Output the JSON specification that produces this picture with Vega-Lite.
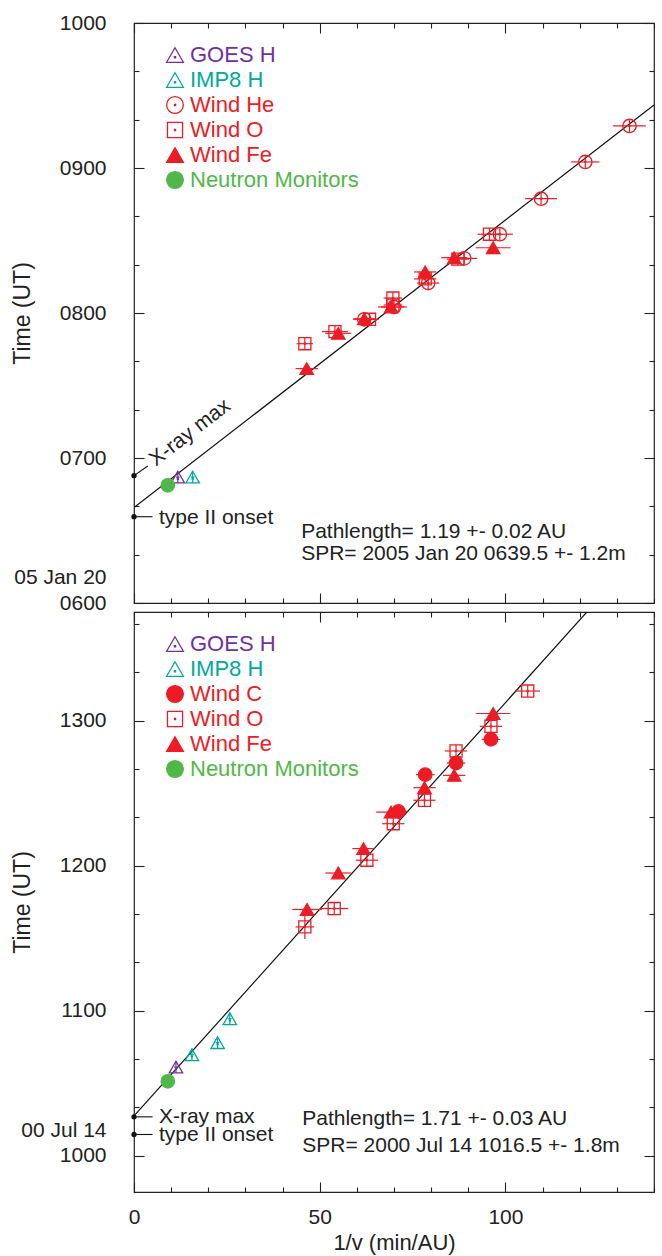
{
  "$schema": "https://vega.github.io/schema/vega-lite/v6.json",
  "padding": {"left": 10, "top": 11, "right": 9, "bottom": 2},
  "bounds": "flush",
  "spacing": 9,
  "config": {
    "view": {"stroke": "#222", "strokeWidth": 1.2},
    "axis": {"labelFont": "Liberation Sans", "labelFontSize": 21, "labelColor": "#222", "tickColor": "#222", "tickWidth": 1.1, "domain": false, "grid": false, "labelFlush": false, "labelOverlap": false, "labelBound": false, "titleFont": "Liberation Sans", "titleFontSize": 23, "titleFontWeight": "normal", "titleColor": "#222"},
    "text": {"font": "Liberation Sans", "fontSize": 21, "color": "#222"},
    "legend": {"orient": "none", "legendX": 30, "legendY": 21, "padding": 0, "rowPadding": 3, "labelOffset": 4, "symbolSize": 280, "symbolStrokeWidth": 1.3, "labelFont": "Liberation Sans", "labelFontSize": 22, "labelLimit": 400}
  },
  "datasets": {
    "top_pts": [
      {"series": "GOES H", "x": 11.8, "t": 412.1, "xerr": 0.5, "terr": 2.5},
      {"series": "IMP8 H", "x": 15.8, "t": 412.1, "xerr": 0.5, "terr": 2.5},
      {"series": "Neutron Monitors", "x": 9.1, "t": 408.7, "xerr": 0, "terr": 0},
      {"series": "Wind O", "x": 46.0, "t": 467.3, "xerr": 2.2, "terr": 2.5},
      {"series": "Wind Fe", "x": 46.5, "t": 457.0, "xerr": 3.0, "terr": 2},
      {"series": "Wind O", "x": 54.1, "t": 472.3, "xerr": 3.5, "terr": 2.5},
      {"series": "Wind Fe", "x": 55.0, "t": 471.6, "xerr": 3.5, "terr": 2},
      {"series": "Wind He", "x": 62.0, "t": 477.4, "xerr": 3.0, "terr": 2.5},
      {"series": "Wind Fe", "x": 62.0, "t": 477.6, "xerr": 3.0, "terr": 2},
      {"series": "Wind O", "x": 63.4, "t": 477.4, "xerr": 2.5, "terr": 2.5},
      {"series": "Wind O", "x": 69.7, "t": 486.2, "xerr": 2.5, "terr": 2.5},
      {"series": "Wind O", "x": 69.7, "t": 483.3, "xerr": 2.5, "terr": 2.5},
      {"series": "Wind He", "x": 70.0, "t": 482.5, "xerr": 3.5, "terr": 2.5},
      {"series": "Wind Fe", "x": 69.2, "t": 482.5, "xerr": 3.5, "terr": 2},
      {"series": "Wind Fe", "x": 78.4, "t": 497.0, "xerr": 3.0, "terr": 2},
      {"series": "Wind O", "x": 78.4, "t": 494.1, "xerr": 3.0, "terr": 2.5},
      {"series": "Wind He", "x": 79.2, "t": 492.4, "xerr": 3.0, "terr": 2.5},
      {"series": "Wind Fe", "x": 86.2, "t": 502.9, "xerr": 3.5, "terr": 2},
      {"series": "Wind O", "x": 87.2, "t": 502.3, "xerr": 3.0, "terr": 2.5},
      {"series": "Wind He", "x": 88.9, "t": 502.6, "xerr": 3.5, "terr": 2.5},
      {"series": "Wind O", "x": 95.7, "t": 512.6, "xerr": 3.2, "terr": 2.5},
      {"series": "Wind He", "x": 98.5, "t": 512.6, "xerr": 3.5, "terr": 2.5},
      {"series": "Wind Fe", "x": 96.7, "t": 507.0, "xerr": 4.7, "terr": 2},
      {"series": "Wind He", "x": 109.6, "t": 527.3, "xerr": 4.3, "terr": 2.5},
      {"series": "Wind He", "x": 121.5, "t": 542.5, "xerr": 3.8, "terr": 2.5},
      {"series": "Wind He", "x": 133.4, "t": 557.4, "xerr": 4.4, "terr": 2.5}
    ],
    "bot_pts": [
      {"series": "GOES H", "x": 11.3, "t": 636.7, "xerr": 0.5, "terr": 2.5},
      {"series": "IMP8 H", "x": 15.6, "t": 641.8, "xerr": 0.5, "terr": 2.5},
      {"series": "IMP8 H", "x": 22.5, "t": 646.8, "xerr": 0.5, "terr": 2.5},
      {"series": "IMP8 H", "x": 25.8, "t": 656.7, "xerr": 0.5, "terr": 2.5},
      {"series": "Neutron Monitors", "x": 9.1, "t": 630.8, "xerr": 0, "terr": 0},
      {"series": "Wind O", "x": 46.0, "t": 694.7, "xerr": 2.5, "terr": 5},
      {"series": "Wind Fe", "x": 46.6, "t": 701.9, "xerr": 4.0, "terr": 2},
      {"series": "Wind O", "x": 53.9, "t": 702.3, "xerr": 3.8, "terr": 2.5},
      {"series": "Wind Fe", "x": 55.0, "t": 717.0, "xerr": 3.5, "terr": 2},
      {"series": "Wind O", "x": 62.7, "t": 722.3, "xerr": 3.0, "terr": 2.5},
      {"series": "Wind Fe", "x": 61.8, "t": 727.1, "xerr": 3.0, "terr": 2},
      {"series": "Wind O", "x": 69.8, "t": 737.4, "xerr": 3.0, "terr": 2.5},
      {"series": "Wind Fe", "x": 69.2, "t": 742.2, "xerr": 4.0, "terr": 2},
      {"series": "Wind C", "x": 71.2, "t": 742.5, "xerr": 2.5, "terr": 2},
      {"series": "Wind O", "x": 78.2, "t": 747.1, "xerr": 3.0, "terr": 2.5},
      {"series": "Wind Fe", "x": 78.2, "t": 752.3, "xerr": 3.0, "terr": 2},
      {"series": "Wind C", "x": 78.4, "t": 757.7, "xerr": 2.5, "terr": 2},
      {"series": "Wind Fe", "x": 86.2, "t": 757.4, "xerr": 3.0, "terr": 2},
      {"series": "Wind C", "x": 86.7, "t": 762.5, "xerr": 2.5, "terr": 2},
      {"series": "Wind O", "x": 86.7, "t": 767.5, "xerr": 3.0, "terr": 2.5},
      {"series": "Wind C", "x": 96.1, "t": 772.3, "xerr": 2.5, "terr": 2},
      {"series": "Wind O", "x": 96.1, "t": 777.7, "xerr": 3.0, "terr": 2.5},
      {"series": "Wind Fe", "x": 96.7, "t": 783.0, "xerr": 4.6, "terr": 2},
      {"series": "Wind O", "x": 106.0, "t": 792.3, "xerr": 3.3, "terr": 2.5}
    ],
    "top_fit": [{"x": 0, "t": 399.5}, {"x": 140, "t": 566.1}],
    "bot_fit": [{"x": 0, "t": 616.5}, {"x": 140, "t": 855.9}],
    "top_ann": [
      {"event": "X-ray max", "x": 0, "t": 412.7, "x2": 3.7, "t2": 416.7},
      {"event": "type II onset", "x": 0, "t": 395.7, "x2": 5.0, "t2": 395.7}
    ],
    "bot_ann": [
      {"event": "X-ray max", "x": 0, "t": 616.1, "x2": 5.0, "t2": 616.1},
      {"event": "type II onset", "x": 0, "t": 608.8, "x2": 5.0, "t2": 608.8}
    ],
    "top_txt": [
      {"label": "type II onset", "x": 6.7, "t": 395.3},
      {"label": "Pathlength= 1.19 +- 0.02 AU", "x": 45.0, "t": 389.5},
      {"label": "SPR= 2005 Jan 20 0639.5 +- 1.2m", "x": 45.0, "t": 380.1}
    ],
    "top_rot": [
      {"label": "X-ray max", "x": 4.9, "t": 418.3}
    ],
    "bot_txt": [
      {"label": "X-ray max", "x": 6.7, "t": 615.9},
      {"label": "type II onset", "x": 6.7, "t": 608.5},
      {"label": "Pathlength= 1.71 +- 0.03 AU", "x": 45.3, "t": 615.2},
      {"label": "SPR= 2000 Jul 14 1016.5 +- 1.8m", "x": 45.3, "t": 604.0}
    ]
  },
  "resolve": {
    "scale": {"y": "independent", "color": "independent", "fill": "independent", "shape": "independent", "stroke": "independent"},
    "legend": {"color": "independent", "fill": "independent", "shape": "independent", "stroke": "independent"}
  },
  "vconcat": [
    {
      "width": 520,
      "height": 580,
      "resolve": {"axis": {"x": "independent", "y": "independent"}},
      "layer": [
        {
          "data": {"name": "top_fit"},
          "mark": {"type": "line", "color": "#111", "strokeWidth": 1.2, "clip": true},
          "encoding": {
            "x": {"field": "x", "type": "quantitative", "scale": {"domain": [0, 140], "nice": false, "zero": false},
              "axis": {"orient": "bottom", "values": [0,10,20,30,40,50,60,70,80,90,100,110,120,130,140], "labels": false, "title": null,
                "tickSize": {"condition": {"test": "datum.value % 50 == 0", "value": -10}, "value": -5}}},
            "y": {"field": "t", "type": "quantitative", "scale": {"domain": [360, 600], "nice": false, "zero": false},
              "axis": {"orient": "left", "values": [360,380,400,420,440,460,480,500,520,540,560,580,600],
                "title": "Time (UT)", "titleX": -100, "titleY": 290, "titleAngle": -90, "titleAlign": "center", "titleBaseline": "bottom",
                "labelExpr": "datum.value == 360 ? ['05 Jan 20', '0600'] : (datum.value % 60 == 0 ? (datum.value < 600 ? '0' : '') + floor(datum.value / 60) + '00' : '')",
                "labelPadding": 38, "labelLineHeight": 26,
                "labelOffset": {"condition": {"test": "datum.value == 360", "value": -26}, "value": 0},
                "tickSize": {"condition": {"test": "datum.value % 60 == 0", "value": -10}, "value": -5}}}
          }
        },
        {
          "data": {"name": "top_pts"},
          "mark": {"type": "errorbar", "thickness": 1.2},
          "encoding": {
            "x": {"field": "x", "type": "quantitative", "axis": null},
            "xError": {"field": "xerr"},
            "y": {"field": "t", "type": "quantitative", "axis": null},
            "stroke": {"field": "series", "type": "nominal",
              "scale": {"domain": ["GOES H", "IMP8 H", "Wind He", "Wind O", "Wind Fe", "Neutron Monitors"], "range": ["#7030a0", "#00a99d", "#ed1c24", "#ed1c24", "#ed1c24", "#50b848"]},
              "legend": {"title": null, "orient": "none",
                "labelColor": {"expr": "datum.label == 'GOES H' ? '#7030a0' : datum.label == 'IMP8 H' ? '#00a99d' : datum.label == 'Neutron Monitors' ? '#50b848' : '#ed1c24'"}}}
          }
        },
        {
          "data": {"name": "top_pts"},
          "mark": {"type": "errorbar", "thickness": 1.2},
          "encoding": {
            "x": {"field": "x", "type": "quantitative", "axis": null},
            "y": {"field": "t", "type": "quantitative", "axis": null},
            "yError": {"field": "terr"},
            "stroke": {"field": "series", "type": "nominal"}
          }
        },
        {
          "data": {"name": "top_pts"},
          "mark": {"type": "point", "size": 180, "strokeWidth": 1.3, "opacity": 1},
          "encoding": {
            "x": {"field": "x", "type": "quantitative",
              "axis": {"orient": "top", "values": [0,10,20,30,40,50,60,70,80,90,100,110,120,130,140], "labels": false, "title": null,
                "tickSize": {"condition": {"test": "datum.value % 50 == 0", "value": -10}, "value": -5}}},
            "y": {"field": "t", "type": "quantitative",
              "axis": {"orient": "right", "values": [360,380,400,420,440,460,480,500,520,540,560,580,600], "labels": false, "title": null,
                "tickSize": {"condition": {"test": "datum.value % 60 == 0", "value": -10}, "value": -5}}},
            "stroke": {"field": "series", "type": "nominal"},
            "fill": {"field": "series", "type": "nominal",
              "scale": {"domain": ["GOES H", "IMP8 H", "Wind He", "Wind O", "Wind Fe", "Neutron Monitors"], "range": ["transparent", "transparent", "transparent", "transparent", "#ed1c24", "#50b848"]},
              "legend": {"title": null, "orient": "none"}},
            "shape": {"field": "series", "type": "nominal",
              "scale": {"domain": ["GOES H", "IMP8 H", "Wind He", "Wind O", "Wind Fe", "Neutron Monitors"], "range": [
                "M0,-0.87L1,0.87L-1,0.87Z M-0.07,0.2L0.07,0.2L0.07,0.34L-0.07,0.34Z",
                "M0,-0.87L1,0.87L-1,0.87Z M-0.07,0.2L0.07,0.2L0.07,0.34L-0.07,0.34Z",
                "M1,0A1,1,0,1,1,-1,0A1,1,0,1,1,1,0Z M-0.07,-0.07L0.07,-0.07L0.07,0.07L-0.07,0.07Z",
                "M-0.9,-0.9L0.9,-0.9L0.9,0.9L-0.9,0.9Z M-0.07,-0.07L0.07,-0.07L0.07,0.07L-0.07,0.07Z",
                "M0,-0.87L1,0.87L-1,0.87Z",
                "circle"]},
              "legend": {"title": null, "orient": "none"}}
          }
        },
        {
          "data": {"name": "top_ann"},
          "mark": {"type": "rule", "color": "#111", "strokeWidth": 1.1},
          "encoding": {
            "x": {"field": "x", "type": "quantitative", "axis": null},
            "y": {"field": "t", "type": "quantitative", "axis": null},
            "x2": {"field": "x2"},
            "y2": {"field": "t2"}
          }
        },
        {
          "data": {"name": "top_ann"},
          "mark": {"type": "point", "filled": true, "size": 28, "color": "#111", "opacity": 1, "clip": false},
          "encoding": {
            "x": {"field": "x", "type": "quantitative", "axis": null},
            "y": {"field": "t", "type": "quantitative", "axis": null}
          }
        },
        {
          "data": {"name": "top_txt"},
          "mark": {"type": "text", "align": "left", "baseline": "middle"},
          "encoding": {
            "x": {"field": "x", "type": "quantitative", "axis": null},
            "y": {"field": "t", "type": "quantitative", "axis": null},
            "text": {"field": "label"}
          }
        },
        {
          "data": {"name": "top_rot"},
          "mark": {"type": "text", "align": "left", "baseline": "middle", "angle": -37.7},
          "encoding": {
            "x": {"field": "x", "type": "quantitative", "axis": null},
            "y": {"field": "t", "type": "quantitative", "axis": null},
            "text": {"field": "label"}
          }
        }
      ]
    },
    {
      "width": 520,
      "height": 580,
      "resolve": {"axis": {"x": "independent", "y": "independent"}},
      "layer": [
        {
          "data": {"name": "bot_fit"},
          "mark": {"type": "line", "color": "#111", "strokeWidth": 1.2, "clip": true},
          "encoding": {
            "x": {"field": "x", "type": "quantitative", "scale": {"domain": [0, 140], "nice": false, "zero": false},
              "axis": {"orient": "bottom", "values": [0,10,20,30,40,50,60,70,80,90,100,110,120,130,140], "title": "1/v (min/AU)",
                "labelExpr": "datum.value % 50 == 0 ? datum.label : ''", "labelPadding": 24, "titlePadding": 0, "titleFontSize": 22,
                "tickSize": {"condition": {"test": "datum.value % 50 == 0", "value": -10}, "value": -5}}},
            "y": {"field": "t", "type": "quantitative", "scale": {"domain": [585, 825], "nice": false, "zero": false},
              "axis": {"orient": "left", "values": [600,620,640,660,680,700,720,740,760,780,800,820],
                "title": "Time (UT)", "titleX": -100, "titleY": 290, "titleAngle": -90, "titleAlign": "center", "titleBaseline": "bottom",
                "labelExpr": "datum.value == 600 ? ['00 Jul 14', '1000'] : (datum.value % 60 == 0 ? floor(datum.value / 60) + '00' : '')",
                "labelPadding": 38, "labelLineHeight": 25,
                "labelOffset": {"condition": {"test": "datum.value == 600", "value": -25}, "value": 0},
                "tickSize": {"condition": {"test": "datum.value % 60 == 0", "value": -10}, "value": -5}}}
          }
        },
        {
          "data": {"name": "bot_pts"},
          "mark": {"type": "errorbar", "thickness": 1.2},
          "encoding": {
            "x": {"field": "x", "type": "quantitative", "axis": null},
            "xError": {"field": "xerr"},
            "y": {"field": "t", "type": "quantitative", "axis": null},
            "stroke": {"field": "series", "type": "nominal",
              "scale": {"domain": ["GOES H", "IMP8 H", "Wind C", "Wind O", "Wind Fe", "Neutron Monitors"], "range": ["#7030a0", "#00a99d", "#ed1c24", "#ed1c24", "#ed1c24", "#50b848"]},
              "legend": {"title": null, "orient": "none",
                "labelColor": {"expr": "datum.label == 'GOES H' ? '#7030a0' : datum.label == 'IMP8 H' ? '#00a99d' : datum.label == 'Neutron Monitors' ? '#50b848' : '#ed1c24'"}}}
          }
        },
        {
          "data": {"name": "bot_pts"},
          "mark": {"type": "errorbar", "thickness": 1.2},
          "encoding": {
            "x": {"field": "x", "type": "quantitative", "axis": null},
            "y": {"field": "t", "type": "quantitative", "axis": null},
            "yError": {"field": "terr"},
            "stroke": {"field": "series", "type": "nominal"}
          }
        },
        {
          "data": {"name": "bot_pts"},
          "mark": {"type": "point", "size": 180, "strokeWidth": 1.3, "opacity": 1},
          "encoding": {
            "x": {"field": "x", "type": "quantitative",
              "axis": {"orient": "top", "values": [0,10,20,30,40,50,60,70,80,90,100,110,120,130,140], "labels": false, "title": null,
                "tickSize": {"condition": {"test": "datum.value % 50 == 0", "value": -10}, "value": -5}}},
            "y": {"field": "t", "type": "quantitative",
              "axis": {"orient": "right", "values": [600,620,640,660,680,700,720,740,760,780,800,820], "labels": false, "title": null,
                "tickSize": {"condition": {"test": "datum.value % 60 == 0", "value": -10}, "value": -5}}},
            "stroke": {"field": "series", "type": "nominal"},
            "fill": {"field": "series", "type": "nominal",
              "scale": {"domain": ["GOES H", "IMP8 H", "Wind C", "Wind O", "Wind Fe", "Neutron Monitors"], "range": ["transparent", "transparent", "#ed1c24", "transparent", "#ed1c24", "#50b848"]},
              "legend": {"title": null, "orient": "none"}},
            "shape": {"field": "series", "type": "nominal",
              "scale": {"domain": ["GOES H", "IMP8 H", "Wind C", "Wind O", "Wind Fe", "Neutron Monitors"], "range": [
                "M0,-0.87L1,0.87L-1,0.87Z M-0.07,0.2L0.07,0.2L0.07,0.34L-0.07,0.34Z",
                "M0,-0.87L1,0.87L-1,0.87Z M-0.07,0.2L0.07,0.2L0.07,0.34L-0.07,0.34Z",
                "circle",
                "M-0.9,-0.9L0.9,-0.9L0.9,0.9L-0.9,0.9Z M-0.07,-0.07L0.07,-0.07L0.07,0.07L-0.07,0.07Z",
                "M0,-0.87L1,0.87L-1,0.87Z",
                "circle"]},
              "legend": {"title": null, "orient": "none"}}
          }
        },
        {
          "data": {"name": "bot_ann"},
          "mark": {"type": "rule", "color": "#111", "strokeWidth": 1.1},
          "encoding": {
            "x": {"field": "x", "type": "quantitative", "axis": null},
            "y": {"field": "t", "type": "quantitative", "axis": null},
            "x2": {"field": "x2"},
            "y2": {"field": "t2"}
          }
        },
        {
          "data": {"name": "bot_ann"},
          "mark": {"type": "point", "filled": true, "size": 28, "color": "#111", "opacity": 1, "clip": false},
          "encoding": {
            "x": {"field": "x", "type": "quantitative", "axis": null},
            "y": {"field": "t", "type": "quantitative", "axis": null}
          }
        },
        {
          "data": {"name": "bot_txt"},
          "mark": {"type": "text", "align": "left", "baseline": "middle"},
          "encoding": {
            "x": {"field": "x", "type": "quantitative", "axis": null},
            "y": {"field": "t", "type": "quantitative", "axis": null},
            "text": {"field": "label"}
          }
        }
      ]
    }
  ]
}
